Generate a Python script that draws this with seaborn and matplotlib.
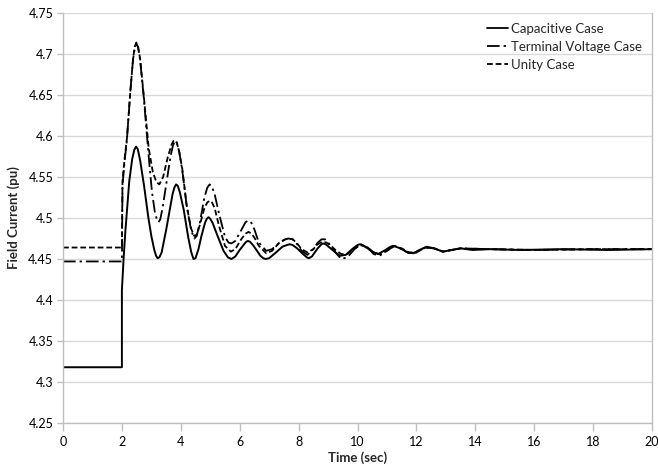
import matplotlib
matplotlib.use("Agg")
import matplotlib.pyplot as plt
import seaborn as sns
import pandas as pd

# ---- data ----
cap_t = [0, 2.0, 2.0, 2.06, 2.12, 2.25, 2.35, 2.42, 2.48, 2.54, 2.62, 2.75, 2.9, 3.0, 3.1,
         3.16, 3.21, 3.27, 3.35, 3.5, 3.65, 3.72, 3.78, 3.84, 3.9, 3.97, 4.1, 4.25, 4.35,
         4.43, 4.5, 4.6, 4.7, 4.82, 4.88, 4.94, 5.0, 5.08, 5.25, 5.45, 5.6, 5.72, 5.85, 6.0,
         6.15, 6.22, 6.28, 6.35, 6.45, 6.55, 6.7, 6.8, 6.88, 7.0, 7.2, 7.45, 7.6, 7.7, 7.8,
         7.95, 8.15, 8.28, 8.35, 8.45, 8.65, 8.75, 8.82, 8.92, 9.15, 9.4, 9.6, 9.85, 10.0,
         10.08, 10.18, 10.3, 10.5, 10.7, 10.95, 11.12, 11.2, 11.3, 11.45, 11.7, 11.9, 12.1,
         12.35, 12.6, 12.9, 13.2, 13.5, 13.9, 14.5, 15.5, 17, 18.5, 20]
cap_v = [4.318, 4.318, 4.412, 4.452, 4.485, 4.545, 4.572, 4.583, 4.587, 4.584, 4.570, 4.540,
         4.500, 4.478, 4.461, 4.454, 4.451, 4.452, 4.458, 4.485, 4.515, 4.529, 4.537, 4.541,
         4.539, 4.531, 4.510, 4.477, 4.459, 4.450, 4.451, 4.462, 4.478, 4.494, 4.499, 4.501,
         4.499, 4.494, 4.478, 4.460, 4.452, 4.450, 4.453, 4.461, 4.468, 4.471, 4.472, 4.471,
         4.467, 4.462, 4.454, 4.451, 4.450, 4.451, 4.457, 4.465, 4.467, 4.468, 4.467, 4.463,
         4.456, 4.452, 4.451, 4.453, 4.463, 4.467, 4.469, 4.468, 4.461, 4.454, 4.455, 4.463,
         4.467, 4.468, 4.467, 4.464, 4.459, 4.456, 4.461, 4.465, 4.466, 4.465, 4.463, 4.458,
         4.457, 4.461, 4.465, 4.463, 4.459, 4.461, 4.463, 4.461, 4.462, 4.461, 4.462, 4.461,
         4.462]

term_t = [0, 2.0, 2.02, 2.1, 2.17, 2.29, 2.38, 2.44, 2.49, 2.55, 2.62, 2.74, 2.91, 3.02,
          3.12, 3.19, 3.24, 3.3, 3.38, 3.5, 3.65, 3.73, 3.8, 3.87, 3.95, 4.05, 4.2, 4.35, 4.46,
          4.54, 4.65, 4.8, 4.9, 4.98, 5.06, 5.15, 5.3, 5.5, 5.62, 5.72, 5.85, 6.05, 6.2, 6.3,
          6.4, 6.5, 6.65, 6.9, 7.1, 7.35, 7.55, 7.65, 7.8, 7.95, 8.1, 8.3, 8.5, 8.65, 8.78,
          8.9, 9.05, 9.2, 9.45, 9.65, 9.9, 10.1, 10.35, 10.55, 10.75, 11.0, 11.25, 11.5, 11.75,
          12.0, 12.3, 12.6, 12.9, 13.2, 13.5, 14.5, 16, 18, 20]
term_v = [4.447, 4.447, 4.540, 4.572, 4.595, 4.656, 4.694, 4.708, 4.713, 4.708, 4.692, 4.648,
          4.575, 4.532, 4.507, 4.498, 4.495, 4.498, 4.512, 4.540, 4.575, 4.588, 4.594, 4.592,
          4.580, 4.558, 4.515, 4.485, 4.475, 4.478, 4.495, 4.525, 4.537, 4.541, 4.538, 4.529,
          4.505, 4.477, 4.470, 4.469, 4.472, 4.485, 4.495, 4.497, 4.494, 4.486, 4.470, 4.460,
          4.462, 4.470, 4.474, 4.475, 4.474, 4.468, 4.460, 4.455, 4.462, 4.470, 4.474, 4.474,
          4.468, 4.460, 4.450, 4.452, 4.462, 4.468, 4.464, 4.456, 4.454, 4.460, 4.466, 4.462,
          4.457, 4.458, 4.464, 4.463, 4.459, 4.461, 4.463, 4.462, 4.461, 4.462, 4.462]

unity_t = [0, 2.0, 2.02, 2.1, 2.17, 2.29, 2.38, 2.44, 2.49, 2.55, 2.62, 2.74, 2.91, 3.05,
           3.17, 3.27, 3.4, 3.55, 3.68, 3.75, 3.8, 3.86, 3.94, 4.05, 4.2, 4.35, 4.46, 4.55,
           4.65, 4.8, 4.9, 4.98, 5.06, 5.15, 5.3, 5.5, 5.7, 5.85, 6.05, 6.2, 6.3, 6.4, 6.5,
           6.65, 6.9, 7.1, 7.35, 7.55, 7.65, 7.8, 7.95, 8.1, 8.3, 8.5, 8.65, 8.8, 8.95, 9.1,
           9.25, 9.45, 9.65, 9.9, 10.1, 10.35, 10.55, 10.75, 11.0, 11.25, 11.5, 11.75, 12.0,
           12.3, 12.6, 12.9, 13.2, 13.5, 14.5, 16, 18, 20]
unity_v = [4.464, 4.464, 4.545, 4.575, 4.597, 4.656, 4.695, 4.709, 4.714, 4.709, 4.694, 4.650,
           4.585, 4.556, 4.544, 4.541, 4.550, 4.573, 4.589, 4.594, 4.595, 4.592, 4.582, 4.560,
           4.515, 4.487, 4.478, 4.480, 4.492, 4.512, 4.519, 4.521, 4.519, 4.512, 4.490, 4.466,
           4.459, 4.462, 4.474, 4.481, 4.483, 4.481, 4.476, 4.466, 4.457, 4.460, 4.470, 4.474,
           4.475, 4.474, 4.469, 4.462, 4.458, 4.462, 4.468, 4.471, 4.470, 4.466, 4.461, 4.456,
           4.456, 4.463, 4.467, 4.464, 4.458, 4.456, 4.460, 4.466, 4.463, 4.458, 4.458, 4.464,
           4.463, 4.459, 4.461, 4.463, 4.462, 4.461, 4.462, 4.462]

labels = ["Capacitive Case", "Terminal Voltage Case", "Unity Case"]
x_ticks = [0, 2, 4, 6, 8, 10, 12, 14, 16, 18, 20]
y_ticks = [4.25, 4.3, 4.35, 4.4, 4.45, 4.5, 4.55, 4.6, 4.65, 4.7, 4.75]

# ---- plotting ----
sns.set_style("white")
plt.rcParams["font.family"] = ["Lato", "DejaVu Sans"]

fig = plt.figure(figsize=(6.58, 4.73), dpi=100)
ax = fig.add_axes([63 / 658, 1 - 423 / 473, (652 - 63) / 658, (423 - 13) / 473])

series = [(cap_t, cap_v, labels[0], None),
          (term_t, term_v, labels[1], (7, 2.2, 1.3, 2.2)),
          (unity_t, unity_v, labels[2], (3.2, 1.6))]

for t, v, lab, dash in series:
    df = pd.DataFrame({"t": t, "v": v})
    sns.lineplot(data=df, x="t", y="v", ax=ax, estimator=None, sort=False,
                 color="black", linewidth=1.4, label=lab)
    ln = ax.get_lines()[-1]
    ln.set_solid_joinstyle("round")
    ln.set_dash_joinstyle("round")
    if dash is not None:
        ln.set_dashes(dash)
        ln.set_linewidth(1.3)

ax.set_xlim(0, 20)
ax.set_ylim(4.25, 4.75)
ax.set_xticks(x_ticks)
ax.set_xticklabels([str(x) for x in x_ticks])
ax.set_yticks(y_ticks)
ax.set_yticklabels([f"{y:g}" for y in y_ticks])
ax.yaxis.grid(True, color="#d9d9d9", linewidth=1)
ax.xaxis.grid(False)
ax.set_axisbelow(True)

for s in ["left", "bottom", "right"]:
    ax.spines[s].set_visible(True)
    ax.spines[s].set_color("#bfbfbf")
    ax.spines[s].set_linewidth(1)
ax.spines["top"].set_visible(False)

ax.tick_params(axis="both", which="major", direction="out", width=1,
               color="#bfbfbf", labelsize=9, labelcolor="black", pad=3)
ax.tick_params(axis="x", bottom=True, length=6)
ax.tick_params(axis="y", left=True, length=4)

ax.set_xlabel("Time (sec)", fontsize=9.5, fontweight="bold", labelpad=3)
ax.set_ylabel("Field Current (pu)", fontsize=9.5, fontweight="bold", labelpad=6)

leg = ax.legend(loc="upper right", bbox_to_anchor=(1.0, 1.0), frameon=False,
                fontsize=9.5, handlelength=1.6, handletextpad=0.2, labelspacing=0.45,
                borderaxespad=0.35)
for h in leg.get_lines():
    h.set_linewidth(1.3)

fig.savefig("out.png", dpi=100)
